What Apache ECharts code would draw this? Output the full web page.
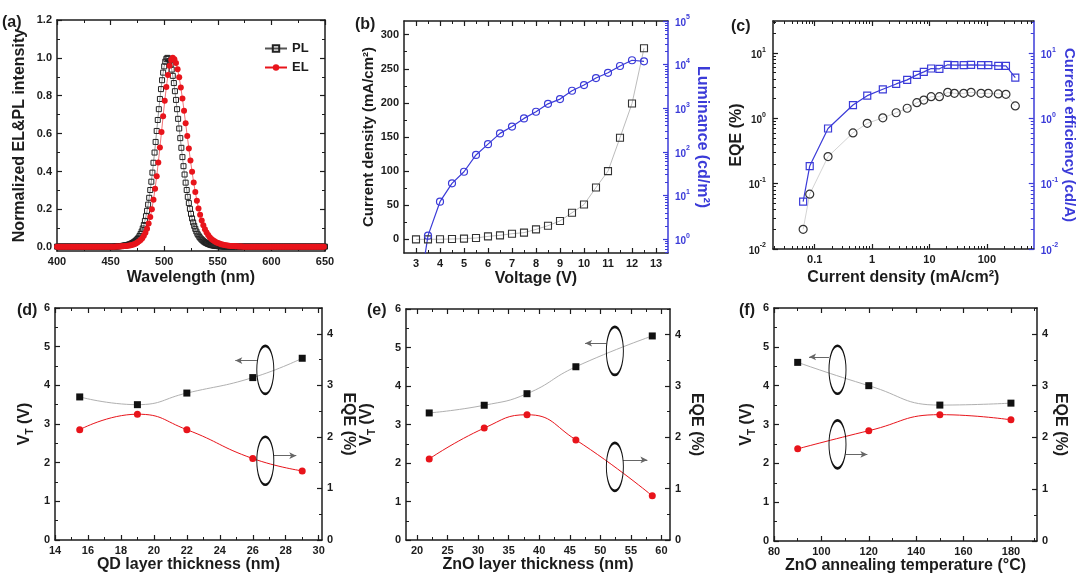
<!DOCTYPE html>
<html>
<head>
<meta charset="utf-8">
<script src="https://cdn.jsdelivr.net/npm/echarts@6/dist/echarts.min.js"></script>
<style>
  html, body { margin: 0; padding: 0; background: #fff; }
  #chart { width: 1078px; height: 576px; }
</style>
</head>
<body>
<div id="chart"></div>
<script>
/* ---------------- (a) spectra ---------------- */
const PL_START = 400, PL_STEP = 1;
const plIntensity = [
  0.003,0.003,0.003,0.003,0.003,0.003,0.003,0.003,0.003,0.003,
  0.003,0.003,0.003,0.003,0.003,0.003,0.003,0.003,0.003,0.003,
  0.003,0.003,0.003,0.003,0.003,0.003,0.003,0.003,0.003,0.003,
  0.003,0.003,0.003,0.003,0.003,0.003,0.003,0.003,0.003,0.003,
  0.003,0.003,0.003,0.003,0.003,0.003,0.003,0.003,0.003,0.003,
  0.003,0.003,0.003,0.003,
  0.004,0.004,0.004,0.005,0.005,0.006,0.006,0.007,0.008,0.009,
  0.010,0.011,0.012,0.014,0.016,0.018,0.021,0.024,0.028,0.032,
  0.037,0.043,0.050,0.059,0.070,0.083,0.099,0.117,0.139,0.164,
  0.192,0.225,0.261,0.302,0.346,0.394,0.446,0.500,0.556,0.614,
  0.672,0.729,0.783,0.835,0.882,0.922,0.955,0.980,0.995,1.000,
  0.996,0.984,0.964,0.938,0.905,0.867,0.824,0.778,0.729,0.678,
  0.627,0.576,0.525,0.476,0.428,0.384,0.341,0.302,0.266,0.233,
  0.203,0.176,0.152,0.131,0.113,0.097,0.083,0.071,0.062,0.053,
  0.046,0.040,0.035,0.030,0.026,0.023,0.020,0.017,0.015,0.013,
  0.011,0.010,0.009,0.008,0.007,0.006,0.006,0.005,0.005,0.004,
  0.004,0.004,
  0.003,0.003,0.003,0.003,0.003,0.003,0.003,0.003,0.003,0.003,
  0.003,0.003,0.003,0.003,0.003,0.003,0.003,0.003,0.003,0.003,
  0.003,0.003,0.003,0.003,0.003,0.003,0.003,0.003,0.003,0.003,
  0.003,0.003,0.003,0.003,0.003,0.003,0.003,0.003,0.003,0.003,
  0.003,0.003,0.003,0.003,0.003,0.003,0.003,0.003,0.003,0.003,
  0.003,0.003,0.003,0.003,0.003,0.003,0.003,0.003,0.003,0.003,
  0.003,0.003,0.003,0.003,0.003,0.003,0.003,0.003,0.003,0.003,
  0.003,0.003,0.003,0.003,0.003,0.003,0.003,0.003,0.003,0.003,
  0.003,0.003,0.003,0.003,0.003,0.003,0.003,0.003,0.003,0.003,
  0.003,0.003,0.003,0.003,0.003
];
const EL_START = 400, EL_STEP = 1.5;
const elIntensity = [
  0.003,0.003,0.003,0.003,0.003,0.003,0.003,0.003,0.003,0.003,
  0.003,0.003,0.003,0.003,0.003,0.003,0.003,0.003,0.003,0.003,
  0.003,0.003,0.003,0.003,0.003,0.003,0.003,0.003,0.003,0.003,
  0.003,0.003,0.003,0.003,0.003,0.003,0.003,
  0.004,0.004,0.004,0.005,0.005,0.006,0.007,0.008,0.009,0.011,
  0.013,0.016,0.020,0.025,0.031,0.038,0.047,0.060,0.077,0.098,
  0.125,0.159,0.201,0.251,0.309,0.375,0.448,0.527,0.609,0.692,
  0.773,0.846,0.910,0.959,0.989,1.000,
  0.993,0.973,0.940,0.897,0.844,0.785,0.721,0.655,0.588,0.522,
  0.458,0.398,0.342,0.291,0.246,0.205,0.171,0.141,0.116,0.095,
  0.078,0.064,0.053,0.044,0.037,0.031,0.026,0.022,0.019,0.016,
  0.014,0.012,0.010,0.009,0.008,0.007,0.006,0.006,0.005,0.005,
  0.004,0.004,0.004,
  0.003,0.003,0.003,0.003,0.003,0.003,0.003,0.003,0.003,0.003,
  0.003,0.003,0.003,0.003,0.003,0.003,0.003,0.003,0.003,0.003,
  0.003,0.003,0.003,0.003,0.003,0.003,0.003,0.003,0.003,0.003,
  0.003,0.003,0.003,0.003,0.003,0.003,0.003,0.003,0.003,0.003,
  0.003,0.003,0.003,0.003,0.003,0.003,0.003,0.003,0.003,0.003,
  0.003
];

/* ---------------- (b) J-V-L ---------------- */
const voltage = [3, 3.5, 4, 4.5, 5, 5.5, 6, 6.5, 7, 7.5, 8, 8.5, 9, 9.5, 10, 10.5, 11, 11.5, 12, 12.5];
const currentDensity = [0, 0, 0.2, 0.5, 1, 2, 4.4, 5.9, 8.3, 9.8, 14.6, 20, 27, 39, 51, 76, 100, 149, 199, 280];
const luminance = [0.02, 1.2, 7.2, 19, 35, 85, 150, 265, 380, 585, 830, 1260, 1620, 2520, 3400, 4920, 6490, 9300, 12600, 11900];

/* ---------------- (c) efficiency ---------------- */
const jEff = [0.063, 0.082, 0.171, 0.465, 0.824, 1.54, 2.63, 4.09, 6.03, 7.97, 10.7, 14.9, 20.8, 27.2, 39.5, 53.1, 79.2, 106, 158, 215, 313];
const eqeC = [0.02, 0.069, 0.26, 0.60, 0.84, 1.02, 1.22, 1.43, 1.74, 1.91, 2.15, 2.15, 2.51, 2.42, 2.42, 2.51, 2.42, 2.42, 2.37, 2.34, 1.55];
const currentEff = [0.053, 0.186, 0.70, 1.60, 2.23, 2.79, 3.37, 3.89, 4.64, 5.16, 5.81, 5.74, 6.62, 6.54, 6.54, 6.62, 6.54, 6.54, 6.38, 6.38, 4.2];

/* ---------------- (d)-(f) V_T and EQE ---------------- */
const qdThickness = [15.5, 19, 22, 26, 29];
const qdVt = [3.7, 3.5, 3.8, 4.2, 4.7];
const qdEqe = [2.14, 2.44, 2.14, 1.58, 1.34];

const znoThickness = [22, 31, 38, 46, 58.5];
const znoVt = [3.3, 3.5, 3.8, 4.5, 5.3];
const znoEqe = [1.58, 2.18, 2.44, 1.95, 0.86];

const annealTemp = [90, 120, 150, 180];
const annealVt = [4.6, 4.0, 3.5, 3.55];
const annealEqe = [1.78, 2.13, 2.44, 2.34];

// ellipse centres / arrows (x1, x2, y) in data units of the V_T axis
const ellipsesD = [[26.76, 4.40], [26.76, 2.05]];
const arrowsD = [[26.25, 24.94, 4.64], [27.27, 28.64, 2.18]];
const ellipsesE = [[52.38, 4.91], [52.38, 1.90]];
const arrowsE = [[51.0, 47.5, 5.11], [53.7, 57.7, 2.08]];
const ellipsesF = [[106.8, 4.41], [106.8, 2.49]];
const arrowsF = [[103.2, 94.8, 4.74], [110.3, 119.4, 2.23]];

/* ---------------- tick values ---------------- */
const ticksA_x = [400, 450, 500, 550, 600, 650], minA_x = [425, 475, 525, 575, 625];
const ticksA_y = [0, 0.2, 0.4, 0.6, 0.8, 1.0, 1.2], minA_y = [0.1, 0.3, 0.5, 0.7, 0.9, 1.1];
const ticksB_x = [3, 4, 5, 6, 7, 8, 9, 10, 11, 12, 13], minB_x = [3.5, 4.5, 5.5, 6.5, 7.5, 8.5, 9.5, 10.5, 11.5, 12.5];
const ticksB_y = [0, 50, 100, 150, 200, 250, 300], minB_y = [25, 75, 125, 175, 225, 275];
const ticksB_lum = [1, 10, 100, 1000, 10000, 100000];
const ticksC_x = [0.1, 1, 10, 100];
const ticksC_y = [0.01, 0.1, 1, 10];
const ticksVt = [0, 1, 2, 3, 4, 5, 6], minVt = [0.5, 1.5, 2.5, 3.5, 4.5, 5.5];
const ticksEqe = [0, 1, 2, 3, 4], minEqe = [0.5, 1.5, 2.5, 3.5, 4.5];
const ticksD_x = [14, 16, 18, 20, 22, 24, 26, 28, 30], minD_x = [15, 17, 19, 21, 23, 25, 27, 29];
const ticksE_x = [20, 25, 30, 35, 40, 45, 50, 55, 60], minE_x = [22.5, 27.5, 32.5, 37.5, 42.5, 47.5, 52.5, 57.5];
const ticksF_x = [80, 100, 120, 140, 160, 180], minF_x = [90, 110, 130, 150, 170, 190];

/* ---------------- helpers ---------------- */
const FONT = '"Liberation Sans", Arial, sans-serif';
const INK = '#1c1c1c';
const BLUE = '#3b3bd8';
const RED = '#e8141b';

const grids = [], xAxes = [], yAxes = [], series = [];

function addGrid(left, top, width, height) {
  grids.push({ left, top, width, height });
  return grids.length - 1;
}

function logMinors(min, max) {
  const out = [];
  for (let e = Math.floor(Math.log10(min)); e <= Math.ceil(Math.log10(max)); e++) {
    for (let m = 2; m <= 9; m++) {
      const v = Number((m * Math.pow(10, e)).toPrecision(6));
      if (v > min && v < max) out.push(v);
    }
  }
  return out;
}

const powLabel = v => '{b|10}{s|' + Math.round(Math.log10(v)) + '}';
function powRich(color) {
  return {
    b: { fontSize: 10, fontWeight: 'bold', fontFamily: FONT, color, lineHeight: 14, verticalAlign: 'bottom' },
    s: { fontSize: 7, fontWeight: 'bold', fontFamily: FONT, color, lineHeight: 7, verticalAlign: 'top' }
  };
}

function addAxes(list, grid, c) {
  const color = c.color || INK;
  const base = {
    gridIndex: grid, type: c.type || 'value', min: c.min, max: c.max,
    position: c.pos, splitLine: { show: false }
  };
  if (c.type === 'log') base.logBase = 10;
  const main = Object.assign({}, base, {
    axisLine: { show: true, onZero: false, lineStyle: { color, width: 1.5 } },
    axisTick: { show: true, inside: true, length: 5, customValues: c.majors, lineStyle: { color, width: 1.2 } },
    axisLabel: {
      show: c.labels !== false, customValues: c.majors, formatter: c.fmt,
      color, fontFamily: FONT, fontWeight: 'bold', fontSize: 11, margin: c.margin || 5,
      rich: c.rich
    },
    name: c.name, nameLocation: 'middle', nameGap: c.nameGap, nameRotate: c.nameRotate,
    nameTextStyle: {
      color, fontFamily: FONT, fontWeight: 'bold', fontSize: c.nameSize || 15,
      rich: c.nameRich
    }
  });
  list.push(main);
  const idx = list.length - 1;
  if (c.minors && c.minors.length) {
    list.push(Object.assign({}, base, {
      axisLine: { show: false, onZero: false },
      axisLabel: { show: false },
      axisTick: { show: true, inside: true, length: 3, customValues: c.minors, lineStyle: { color, width: 1 } }
    }));
  }
  return idx;
}

function box(grid, xc, yc, rightCfg) {
  const xi = addAxes(xAxes, grid, Object.assign({ pos: 'bottom' }, xc));
  addAxes(xAxes, grid, Object.assign({}, xc, { pos: 'top', labels: false, name: null }));
  const yi = addAxes(yAxes, grid, Object.assign({ pos: 'left' }, yc));
  const yr = addAxes(yAxes, grid, Object.assign({}, rightCfg || Object.assign({}, yc, { labels: false, name: null }), { pos: 'right' }));
  return { xi, yi, yr };
}

const pair = (xs, ys) => xs.map((x, i) => [x, ys[i]]);

/* ---------------- panel (a) ---------------- */
const plWave = plIntensity.map((_, i) => PL_START + i * PL_STEP);
const elWave = elIntensity.map((_, i) => EL_START + i * EL_STEP);
const gA = addGrid(57, 20, 268, 231);
const A = box(gA,
  { min: 400, max: 650, majors: ticksA_x, minors: minA_x, name: 'Wavelength (nm)', nameGap: 19, nameSize: 16 },
  { min: -0.02, max: 1.2, majors: ticksA_y, minors: minA_y, fmt: v => v.toFixed(1), name: 'Normalized EL&PL intensity', nameGap: 29, nameSize: 16 });
series.push({
  name: 'PL', type: 'line', xAxisIndex: A.xi, yAxisIndex: A.yi, data: pair(plWave, plIntensity),
  symbol: 'rect', symbolSize: 5, itemStyle: { color: 'rgba(0,0,0,0)', borderColor: '#222', borderWidth: 1 },
  lineStyle: { color: '#555', width: 0.6 }
});
series.push({
  name: 'EL', type: 'line', xAxisIndex: A.xi, yAxisIndex: A.yi, data: pair(elWave, elIntensity),
  symbol: 'circle', symbolSize: 6, itemStyle: { color: RED, borderWidth: 0 },
  lineStyle: { color: RED, width: 0.6 }
});

/* ---------------- panel (b) ---------------- */
const gB = addGrid(404, 21, 264, 232);
const B = box(gB,
  { min: 2.5, max: 13.5, majors: ticksB_x, minors: minB_x, name: 'Voltage (V)', nameGap: 18, nameSize: 16 },
  { min: -20, max: 320, majors: ticksB_y, minors: minB_y, name: 'Current density (mA/cm²)', nameGap: 24 },
  { type: 'log', min: 0.48, max: 100000, majors: ticksB_lum, minors: logMinors(0.48, 100000), color: BLUE,
    fmt: powLabel, rich: powRich(BLUE), margin: 7, name: 'Luminance (cd/m²)', nameGap: 12, nameRotate: -90, nameSize: 16 });
series.push({
  name: 'J', type: 'line', xAxisIndex: B.xi, yAxisIndex: B.yi, data: pair(voltage, currentDensity),
  symbol: 'rect', symbolSize: 7, itemStyle: { color: 'rgba(0,0,0,0)', borderColor: '#333', borderWidth: 1.1 },
  lineStyle: { color: '#aaa', width: 0.8 }
});
series.push({
  name: 'L', type: 'line', xAxisIndex: B.xi, yAxisIndex: B.yr, data: pair(voltage, luminance),
  symbol: 'circle', symbolSize: 7, itemStyle: { color: 'rgba(0,0,0,0)', borderColor: BLUE, borderWidth: 1.2 },
  lineStyle: { color: BLUE, width: 1.2 }
});

/* ---------------- panel (c) ---------------- */
const gC = addGrid(773, 21, 261, 228);
const C = box(gC,
  { type: 'log', min: 0.0188, max: 656, majors: ticksC_x, minors: logMinors(0.0188, 656),
    fmt: v => String(+v.toPrecision(3)), name: 'Current density (mA/cm²)', nameGap: 21, nameSize: 16 },
  { type: 'log', min: 0.01, max: 31, majors: ticksC_y, minors: logMinors(0.01, 31), fmt: powLabel, rich: powRich(INK),
    margin: 7, name: 'EQE (%)', nameGap: 26, nameSize: 16 },
  { type: 'log', min: 0.01, max: 31, majors: ticksC_y, minors: logMinors(0.01, 31), color: BLUE, fmt: powLabel,
    rich: powRich(BLUE), margin: 7, name: 'Current efficiency (cd/A)', nameGap: 28, nameRotate: -90, nameSize: 15 });
series.push({
  name: 'EQEc', type: 'line', xAxisIndex: C.xi, yAxisIndex: C.yi, data: pair(jEff, eqeC),
  symbol: 'circle', symbolSize: 8, itemStyle: { color: 'rgba(0,0,0,0)', borderColor: '#333', borderWidth: 1.2 },
  lineStyle: { color: '#c8c8c8', width: 0.8 }
});
series.push({
  name: 'CE', type: 'line', xAxisIndex: C.xi, yAxisIndex: C.yr, data: pair(jEff, currentEff),
  symbol: 'rect', symbolSize: 7, itemStyle: { color: 'rgba(0,0,0,0)', borderColor: BLUE, borderWidth: 1.2 },
  lineStyle: { color: BLUE, width: 1.2 }
});

/* ---------------- panels (d)-(f) ---------------- */
const vtRich = {
  n: { fontFamily: FONT, fontWeight: 'bold', fontSize: 16, color: INK, lineHeight: 20, verticalAlign: 'middle' },
  t: { fontFamily: FONT, fontWeight: 'bold', fontSize: 10, color: INK, lineHeight: 10, verticalAlign: 'bottom' }
};

function vtPanel(rect, xCfg, xs, vt, eqe, ellipses, arrows, leftGap, rightGap) {
  const g = addGrid(rect[0], rect[1], rect[2], rect[3]);
  const P = box(g,
    Object.assign({ nameGap: 17, nameSize: 16 }, xCfg),
    { min: 0, max: 6, majors: ticksVt, minors: minVt, name: '{n|V}{t|T}{n| (V)}', nameRich: vtRich, nameGap: leftGap, nameSize: 16 },
    { min: 0, max: 4.5, majors: ticksEqe, minors: minEqe, name: 'EQE (%)', nameGap: rightGap, nameRotate: -90, nameSize: 16 });
  series.push({
    type: 'line', xAxisIndex: P.xi, yAxisIndex: P.yi, data: pair(xs, vt), smooth: 0.5,
    symbol: 'rect', symbolSize: 7, itemStyle: { color: '#111' }, lineStyle: { color: '#b0b0b0', width: 1 },
    markPoint: {
      silent: true, symbol: 'path://M0,10A10,10 0 1,0 20,10A10,10 0 1,0 0,10Z', symbolSize: [17, 48],
      itemStyle: { color: 'rgba(0,0,0,0)', borderColor: '#111', borderWidth: 1.6 }, label: { show: false },
      data: ellipses.map(e => ({ coord: e }))
    },
    markLine: {
      silent: true, symbol: ['none', 'arrow'], symbolSize: [5, 7],
      lineStyle: { color: '#666', width: 1, type: 'solid' }, label: { show: false },
      data: arrows.map(a => [{ coord: [a[0], a[2]] }, { coord: [a[1], a[2]] }])
    }
  });
  series.push({
    type: 'line', xAxisIndex: P.xi, yAxisIndex: P.yr, data: pair(xs, eqe), smooth: 0.5,
    symbol: 'circle', symbolSize: 7, itemStyle: { color: RED }, lineStyle: { color: RED, width: 1 }
  });
}

vtPanel([55, 308, 267, 232], { min: 14, max: 30.2, majors: ticksD_x, minors: minD_x, name: 'QD layer thickness (nm)' },
  qdThickness, qdVt, qdEqe, ellipsesD, arrowsD, 20, 18);
vtPanel([406, 309, 264, 231], { min: 18.2, max: 61.4, majors: ticksE_x, minors: minE_x, name: 'ZnO layer thickness (nm)' },
  znoThickness, znoVt, znoEqe, ellipsesE, arrowsE, 29, 18);
vtPanel([774, 308, 263, 233], { min: 80, max: 191, majors: ticksF_x, minors: minF_x, name: 'ZnO annealing temperature (°C)' },
  annealTemp, annealVt, annealEqe, ellipsesF, arrowsF, 17, 15);

/* ---------------- panel letters ---------------- */
const letters = [['(a)', 2, 15], ['(b)', 355, 17], ['(c)', 731, 19], ['(d)', 17, 303], ['(e)', 367, 303], ['(f)', 739, 303]];

const chart = echarts.init(document.getElementById('chart'));
chart.setOption({
  animation: false,
  backgroundColor: '#fff',
  grid: grids,
  xAxis: xAxes,
  yAxis: yAxes,
  series: series,
  legend: {
    data: ['PL', 'EL'], orient: 'vertical', left: 259, top: 37, itemGap: 6,
    itemWidth: 22, itemHeight: 8,
    textStyle: { fontFamily: FONT, fontWeight: 'bold', fontSize: 13, color: INK }
  },
  graphic: letters.map(l => ({
    type: 'text', left: l[1], top: l[2],
    style: { text: l[0], font: 'bold 16px "Liberation Sans", Arial, sans-serif', fill: INK }
  }))
});
</script>
</body>
</html>
